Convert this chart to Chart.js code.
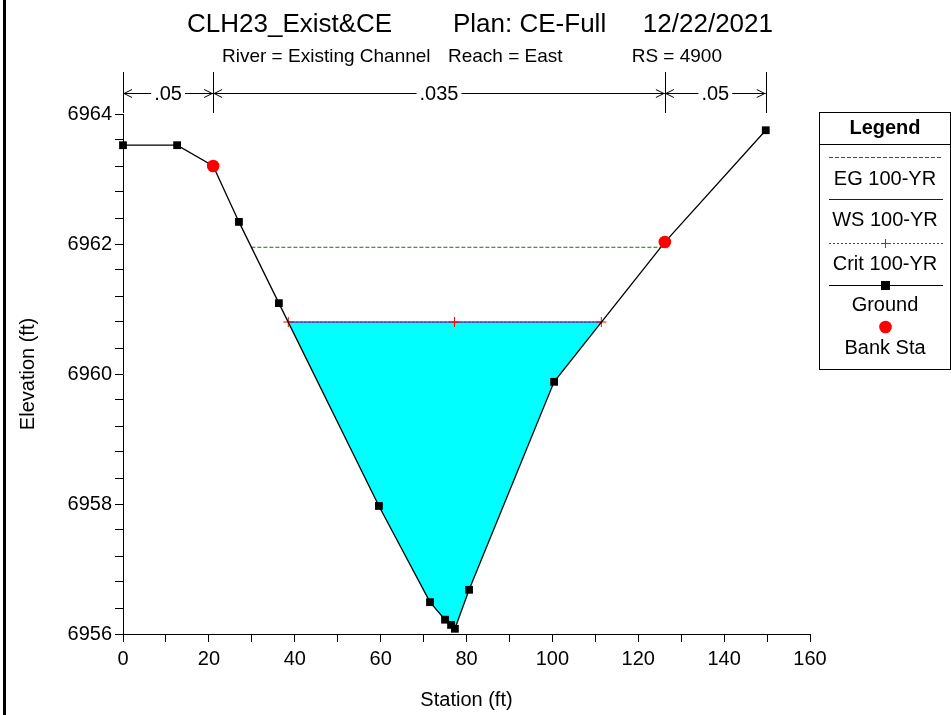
<!DOCTYPE html>
<html>
<head>
<meta charset="utf-8">
<title>CLH23_Exist&amp;CE - RS 4900</title>
<script src="https://cdn.jsdelivr.net/npm/chart.js@4.4.1/dist/chart.umd.min.js"></script>
<style>
  html, body { margin: 0; padding: 0; background: #fff; }
  canvas { display: block; }
</style>
</head>
<body>
<canvas id="xs" width="951" height="715"></canvas>
<script>
// ground survey points (station ft, elevation ft)
const groundStation = [0, 12.6, 21.0, 27.0, 36.3, 59.6, 71.5, 75.0, 76.4, 77.3, 80.6, 100.4, 126.2, 149.7];
const groundElev = [6963.52, 6963.52, 6963.20, 6962.34, 6961.09, 6957.97, 6956.49, 6956.22, 6956.14, 6956.08, 6956.68, 6959.88, 6962.03, 6963.75];

// bank stations
const bankStation = [21.0, 126.2];
const bankElev = [6963.20, 6962.03];

// water surfaces, 100-YR
const egElev = 6961.95;
const egStation = [29.9, 125.4];
const wsElev = 6960.80;
const wsStation = [38.5, 111.4];
const critElev = 6960.80;
const critStation = [38.5, 77.2, 111.4];

// manning's n
const nBreaks = [0, 21.0, 126.2, 149.7];
const nValues = ['.05', '.035', '.05'];

// axis ticks
const xMin = 0, xMax = 160, xStep = 10, xLabelEvery = 20;
const yMin = 6956, yMax = 6964, yStep = 0.4, yLabelEvery = 2;

const FONT = '"Liberation Sans", Arial, sans-serif';

function pts(xs, ys) {
    return xs.map((x, i) => ({ x: x, y: Array.isArray(ys) ? ys[i] : ys }));
}

// water area = ground below the WS line, closed at the WS edges
const waterPts = [{ x: wsStation[0], y: wsElev }];
groundStation.forEach((s, i) => {
    if (s > wsStation[0] && s < wsStation[1]) waterPts.push({ x: s, y: groundElev[i] });
});
waterPts.push({ x: wsStation[1], y: wsElev });

// === titulo, n de manning, leyenda ===
const overlay = {
    id: 'overlay',
    afterDraw(chart) {
        const ctx = chart.ctx;
        const sx = chart.scales.x;
        ctx.save();
        ctx.setLineDash([]);
        ctx.lineWidth = 1;

        // marco izquierdo
        ctx.fillStyle = '#000';
        ctx.fillRect(3, 0, 3, 715);

        // titulo
        ctx.textBaseline = 'alphabetic';
        ctx.font = '26px ' + FONT;
        ctx.textAlign = 'left';
        ctx.fillText('CLH23_Exist&CE', 187, 32);
        ctx.fillText('Plan: CE-Full', 453, 32);
        ctx.textAlign = 'right';
        ctx.fillText('12/22/2021', 773, 32);

        ctx.font = '19px ' + FONT;
        ctx.textAlign = 'left';
        ctx.fillText('River = Existing Channel', 222, 62);
        ctx.fillText('Reach = East', 448, 62);
        ctx.textAlign = 'right';
        ctx.fillText('RS = 4900', 722, 62);

        // n de manning
        const yTop = 72, yBot = 113, yArr = 93;
        ctx.strokeStyle = '#000';
        ctx.font = '20px ' + FONT;
        ctx.textAlign = 'center';
        ctx.textBaseline = 'middle';
        nBreaks.forEach(b => {
            const px = Math.round(sx.getPixelForValue(b));
            ctx.fillRect(px, yTop, 1, yBot - yTop);
        });
        nValues.forEach((n, i) => {
            const a = sx.getPixelForValue(nBreaks[i]);
            const b = sx.getPixelForValue(nBreaks[i + 1]);
            const mid = (a + b) / 2;
            const w = ctx.measureText(n).width;
            ctx.beginPath();
            ctx.moveTo(a, yArr + 0.5); ctx.lineTo(mid - w / 2 - 3, yArr + 0.5);
            ctx.moveTo(mid + w / 2 + 3, yArr + 0.5); ctx.lineTo(b, yArr + 0.5);
            ctx.moveTo(a + 9, yArr - 3.5); ctx.lineTo(a + 1, yArr + 0.5); ctx.lineTo(a + 9, yArr + 4.5);
            ctx.moveTo(b - 9, yArr - 3.5); ctx.lineTo(b - 1, yArr + 0.5); ctx.lineTo(b - 9, yArr + 4.5);
            ctx.stroke();
            ctx.fillText(n, mid, yArr + 1);
        });

        // leyenda
        const lx = 819, ly = 112, lw = 132, lh = 258;
        const cx = 885, l1 = 829, l2 = 943;
        ctx.fillStyle = '#fff';
        ctx.fillRect(lx, ly, lw, lh);
        ctx.fillStyle = '#000';
        ctx.fillRect(lx, ly, lw, 1);
        ctx.fillRect(lx, ly + lh - 1, lw, 1);
        ctx.fillRect(lx, ly, 1, lh);
        ctx.fillRect(lx + lw - 1, ly, 1, lh);
        ctx.fillRect(lx, 144, lw, 1);

        ctx.font = 'bold 20px ' + FONT;
        ctx.fillText('Legend', cx, 128);

        // linea de leyenda con trazos de 1 px
        function legLine(y, color, on, off) {
            ctx.fillStyle = color;
            for (let x = l1; x < l2; x += on + off) {
                ctx.fillRect(x, y, Math.min(on, l2 - x), 1);
            }
        }
        legLine(157, '#008000', 4, 2);
        legLine(199, '#0000ff', 1, 0);
        legLine(243, '#ff0000', 2, 2);
        ctx.fillStyle = '#ff0000';
        ctx.fillRect(cx, 239, 1, 9);
        ctx.fillRect(cx - 4, 243, 9, 1);
        legLine(285, '#000000', 1, 0);
        ctx.fillStyle = '#000';
        ctx.fillRect(cx - 4, 281, 9, 9);
        ctx.fillStyle = '#ff0000';
        ctx.beginPath();
        ctx.arc(cx + 0.5, 327, 6.3, 0, Math.PI * 2);
        ctx.fill();

        ctx.fillStyle = '#000';
        ctx.font = '20px ' + FONT;
        ctx.fillText('EG 100-YR', cx, 179);
        ctx.fillText('WS 100-YR', cx, 220);
        ctx.fillText('Crit 100-YR', cx, 264);
        ctx.fillText('Ground', cx, 305);
        ctx.fillText('Bank Sta', cx, 348);

        ctx.restore();
    }
};

new Chart(document.getElementById('xs'), {
    type: 'line',
    data: {
        datasets: [
            {
                label: 'Bank Sta',
                data: pts(bankStation, bankElev),
                showLine: false,
                pointStyle: 'circle',
                pointRadius: 6.3,
                pointBackgroundColor: '#ff0000',
                pointBorderWidth: 0,
                clip: false,
                order: 0
            },
            {
                label: 'Ground',
                data: pts(groundStation, groundElev),
                borderColor: '#000',
                borderWidth: 1.3,
                pointStyle: 'rect',
                pointRadius: 5.5,
                pointBackgroundColor: '#000',
                pointBorderWidth: 0,
                clip: false,
                order: 1
            },
            {
                label: 'Crit 100-YR',
                data: pts(critStation, critElev),
                borderColor: '#ff0000',
                borderWidth: 1,
                borderDash: [2, 2],
                pointStyle: 'cross',
                pointRadius: 5,
                pointBorderColor: '#ff0000',
                pointBorderWidth: 1,
                order: 2
            },
            {
                label: 'WS 100-YR',
                data: pts(wsStation, wsElev),
                borderColor: '#0000ff',
                borderWidth: 1,
                pointRadius: 0,
                order: 3
            },
            {
                label: 'EG 100-YR',
                data: pts(egStation, egElev),
                borderColor: '#008000',
                borderWidth: 1,
                borderDash: [4, 2],
                pointRadius: 0,
                order: 4
            },
            {
                label: 'water',
                data: waterPts,
                borderColor: 'rgba(0,0,0,0)',
                borderWidth: 1,
                backgroundColor: '#00ffff',
                fill: { value: wsElev },
                pointRadius: 0,
                order: 5
            }
        ]
    },
    options: {
        responsive: false,
        animation: false,
        events: [],
        layout: { padding: { left: 0, right: 141, top: 114, bottom: 0 } },
        plugins: {
            legend: { display: false },
            title: { display: false },
            tooltip: { enabled: false }
        },
        scales: {
            x: {
                type: 'linear',
                min: xMin,
                max: xMax,
                afterFit(s) { s.height = 81; },
                border: { color: '#000', width: 1 },
                grid: { drawOnChartArea: false, color: '#000', tickLength: 8 },
                ticks: {
                    stepSize: xStep,
                    autoSkip: false,
                    maxRotation: 0,
                    padding: 5,
                    color: '#000',
                    font: { family: FONT, size: 20 },
                    callback: v => (Math.round(v) % xLabelEvery === 0 ? String(Math.round(v)) : '')
                },
                title: {
                    display: true,
                    text: 'Station (ft)',
                    color: '#000',
                    font: { family: FONT, size: 20 },
                    padding: { top: 0, bottom: 3 }
                }
            },
            y: {
                type: 'linear',
                min: yMin,
                max: yMax,
                afterFit(s) { s.width = 123; },
                border: { color: '#000', width: 1 },
                grid: { drawOnChartArea: false, color: '#000', tickLength: 8 },
                ticks: {
                    stepSize: yStep,
                    autoSkip: false,
                    padding: 3,
                    color: '#000',
                    font: { family: FONT, size: 20 },
                    callback: v => {
                        const r = Math.round(v);
                        return Math.abs(v - r) < 1e-6 && r % yLabelEvery === 0 ? String(r) : '';
                    }
                },
                title: {
                    display: true,
                    text: 'Elevation (ft)',
                    color: '#000',
                    font: { family: FONT, size: 20 },
                    padding: { top: 16, bottom: 0 }
                }
            }
        }
    },
    plugins: [overlay]
});
</script>
</body>
</html>
